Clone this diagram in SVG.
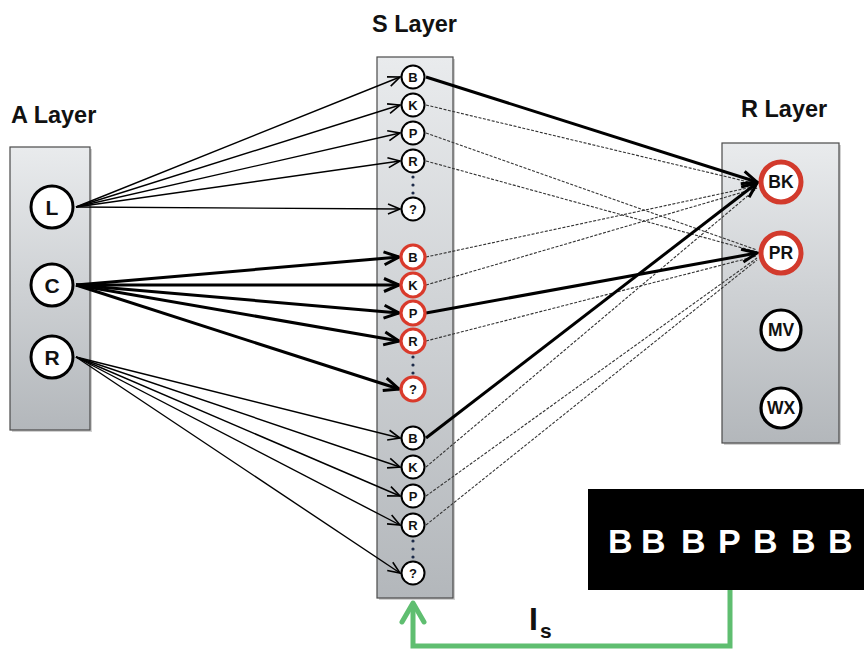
<svg xmlns="http://www.w3.org/2000/svg" width="864" height="649" viewBox="0 0 864 649">
<defs>
<linearGradient id="boxg" x1="0" y1="0" x2="0" y2="1">
<stop offset="0" stop-color="#e9ebed"/>
<stop offset="1" stop-color="#b3b7bb"/>
</linearGradient>
<marker id="arr" markerUnits="userSpaceOnUse" viewBox="0 0 14 12" markerWidth="14" markerHeight="12" refX="13" refY="6" orient="auto" overflow="visible">
<path d="M1,1 L13,6 L1,11" fill="none" stroke="#000" stroke-width="1.6"/>
</marker>
<marker id="arrT" markerUnits="userSpaceOnUse" viewBox="0 0 18 16" markerWidth="18" markerHeight="16" refX="16" refY="8" orient="auto" overflow="visible">
<path d="M1,1.5 L16,8 L1,14.5" fill="none" stroke="#000" stroke-width="3"/>
</marker>
</defs>
<style>
.box{fill:url(#boxg);stroke:#4a4a4a;stroke-width:1.2}
.shadow{fill:#000;opacity:0.18}
.title{font-family:"Liberation Sans",Arial,sans-serif;font-weight:bold;font-size:23.5px;fill:#111}
.anode{fill:#fff;stroke:#000;stroke-width:3}
.atxt{font-family:"Liberation Sans",Arial,sans-serif;font-weight:bold;font-size:21px;text-anchor:middle;fill:#111}
.snode{fill:#fff;stroke:#000;stroke-width:2}
.snodeR{fill:#fff;stroke:#d93a2b;stroke-width:3.2}
.stxt{font-family:"Liberation Sans",Arial,sans-serif;font-weight:bold;font-size:13px;text-anchor:middle;fill:#111}
.rnode{fill:#fff;stroke:#000;stroke-width:3.2}
.rnodeR{fill:#fff;stroke:#d23a2c;stroke-width:5}
.rtxt{font-family:"Liberation Sans",Arial,sans-serif;font-weight:bold;font-size:17.5px;text-anchor:middle;fill:#111}
.dot{fill:#1c2a48}
.thin{stroke:#000;stroke-width:1.4;fill:none;marker-end:url(#arr)}
.thick{stroke:#000;stroke-width:3;fill:none;marker-end:url(#arrT)}
.dash{stroke:#333;stroke-width:1.1;stroke-dasharray:3 1.5;fill:none}
.green{stroke:#5fbe70;stroke-width:5;fill:none}
.seq{font-family:"Liberation Sans",Arial,sans-serif;font-weight:bold;font-size:34px;fill:#fff}
</style>

<rect width="864" height="649" fill="#fff"/>

<!-- titles -->
<text class="title" x="11" y="123">A Layer</text>
<text class="title" x="372" y="32">S Layer</text>
<text class="title" x="741" y="117">R Layer</text>

<!-- layer boxes -->
<g id="a-layer-box">
<rect class="shadow" x="12" y="149" width="80" height="283"/>
<rect class="box" x="10" y="147" width="80" height="283"/>
</g>
<g id="s-layer-box">
<rect class="shadow" x="379" y="59" width="76" height="541"/>
<rect class="box" x="377" y="57" width="76" height="541"/>
</g>
<g id="r-layer-box">
<rect class="shadow" x="724" y="145" width="117" height="300"/>
<rect class="box" x="722" y="143" width="117" height="300"/>
</g>

<!-- connectors -->
<g id="connectors">
<!-- L to S group 1 -->
<line class="thin" x1="76" y1="207" x2="400" y2="77"/>
<line class="thin" x1="76" y1="207" x2="400" y2="105"/>
<line class="thin" x1="76" y1="207" x2="400" y2="133"/>
<line class="thin" x1="76" y1="207" x2="400" y2="161"/>
<line class="thin" x1="76" y1="207" x2="400" y2="209"/>
<!-- C to S group 2 -->
<line class="thick" x1="76" y1="285" x2="399" y2="257"/>
<line class="thick" x1="76" y1="285" x2="399" y2="285"/>
<line class="thick" x1="76" y1="285" x2="399" y2="313"/>
<line class="thick" x1="76" y1="285" x2="399" y2="341"/>
<line class="thick" x1="76" y1="285" x2="399" y2="389"/>
<!-- R to S group 3 -->
<line class="thin" x1="76" y1="357" x2="400" y2="438"/>
<line class="thin" x1="76" y1="357" x2="400" y2="467"/>
<line class="thin" x1="76" y1="357" x2="400" y2="496"/>
<line class="thin" x1="76" y1="357" x2="400" y2="525"/>
<line class="thin" x1="76" y1="357" x2="400" y2="573"/>
<!-- S to R layer -->
<line class="dash" x1="426" y1="105" x2="757" y2="184"/>
<line class="dash" x1="426" y1="133" x2="757" y2="250"/>
<line class="dash" x1="426" y1="161" x2="757" y2="252"/>
<line class="dash" x1="426" y1="257" x2="757" y2="186"/>
<line class="dash" x1="426" y1="285" x2="757" y2="188"/>
<line class="dash" x1="426" y1="341" x2="757" y2="256"/>
<line class="dash" x1="426" y1="467" x2="757" y2="188"/>
<line class="dash" x1="426" y1="496" x2="757" y2="258"/>
<line class="dash" x1="426" y1="525" x2="757" y2="260"/>
<line class="thick" x1="426" y1="77" x2="757" y2="182"/>
<line class="thick" x1="426" y1="313" x2="757" y2="253"/>
<line class="thick" x1="426" y1="438" x2="757" y2="183"/>
<!-- feedback I_s -->
<path class="green" d="M730,590 L730,646 L413,646 L413,603"/>
<path class="green" d="M402,622 L413,603 L424,622" stroke-linecap="round" stroke-linejoin="round"/>
</g>

<!-- A layer nodes -->
<g id="a-L"><circle class="anode" cx="52" cy="207" r="21"/><text class="atxt" x="52" y="214.5">L</text></g>
<g id="a-C"><circle class="anode" cx="52" cy="285" r="21"/><text class="atxt" x="52" y="292.5">C</text></g>
<g id="a-R"><circle class="anode" cx="52" cy="357" r="21"/><text class="atxt" x="52" y="364.5">R</text></g>

<!-- S layer group 1 -->
<g id="s1-B"><circle class="snode" cx="413" cy="77" r="11.5"/><text class="stxt" x="413" y="81.5">B</text></g>
<g id="s1-K"><circle class="snode" cx="413" cy="105" r="11.5"/><text class="stxt" x="413" y="109.5">K</text></g>
<g id="s1-P"><circle class="snode" cx="413" cy="133" r="11.5"/><text class="stxt" x="413" y="137.5">P</text></g>
<g id="s1-R"><circle class="snode" cx="413" cy="161" r="11.5"/><text class="stxt" x="413" y="165.5">R</text></g>
<g id="s1-dots"><circle class="dot" cx="413" cy="177" r="1.6"/><circle class="dot" cx="413" cy="185" r="1.6"/><circle class="dot" cx="413" cy="193" r="1.6"/></g>
<g id="s1-Q"><circle class="snode" cx="413" cy="209" r="11.5"/><text class="stxt" x="413" y="213.5">?</text></g>

<!-- S layer group 2 -->
<g id="s2-B"><circle class="snodeR" cx="413" cy="257" r="12"/><text class="stxt" x="413" y="261.5">B</text></g>
<g id="s2-K"><circle class="snodeR" cx="413" cy="285" r="12"/><text class="stxt" x="413" y="289.5">K</text></g>
<g id="s2-P"><circle class="snodeR" cx="413" cy="313" r="12"/><text class="stxt" x="413" y="317.5">P</text></g>
<g id="s2-R"><circle class="snodeR" cx="413" cy="341" r="12"/><text class="stxt" x="413" y="345.5">R</text></g>
<g id="s2-dots"><circle class="dot" cx="413" cy="357" r="1.6"/><circle class="dot" cx="413" cy="365" r="1.6"/><circle class="dot" cx="413" cy="373" r="1.6"/></g>
<g id="s2-Q"><circle class="snodeR" cx="413" cy="389" r="12"/><text class="stxt" x="413" y="393.5">?</text></g>

<!-- S layer group 3 -->
<g id="s3-B"><circle class="snode" cx="413" cy="438" r="11.5"/><text class="stxt" x="413" y="442.5">B</text></g>
<g id="s3-K"><circle class="snode" cx="413" cy="467" r="11.5"/><text class="stxt" x="413" y="471.5">K</text></g>
<g id="s3-P"><circle class="snode" cx="413" cy="496" r="11.5"/><text class="stxt" x="413" y="500.5">P</text></g>
<g id="s3-R"><circle class="snode" cx="413" cy="525" r="11.5"/><text class="stxt" x="413" y="529.5">R</text></g>
<g id="s3-dots"><circle class="dot" cx="413" cy="541" r="1.6"/><circle class="dot" cx="413" cy="549" r="1.6"/><circle class="dot" cx="413" cy="557" r="1.6"/></g>
<g id="s3-Q"><circle class="snode" cx="413" cy="573" r="11.5"/><text class="stxt" x="413" y="577.5">?</text></g>

<!-- R layer nodes -->
<g id="r-BK"><circle class="rnodeR" cx="781" cy="182" r="20"/><text class="rtxt" x="781" y="188">BK</text></g>
<g id="r-PR"><circle class="rnodeR" cx="781" cy="253" r="20"/><text class="rtxt" x="781" y="259">PR</text></g>
<g id="r-MV"><circle class="rnode" cx="781" cy="330" r="20"/><text class="rtxt" x="781" y="336">MV</text></g>
<g id="r-WX"><circle class="rnode" cx="781" cy="408" r="20"/><text class="rtxt" x="781" y="414">WX</text></g>

<!-- input sequence -->
<g id="input">
<rect x="588" y="489" width="276" height="101" fill="#000"/>
<text class="seq" x="608 641 681 718 753 791 828" y="553">BBBPBBB</text>
</g>

<!-- I_s label -->
<g id="is-label">
<text x="529" y="630" font-family="Liberation Sans, Arial, sans-serif" font-weight="bold" font-size="32" fill="#111">I</text>
<text x="540" y="638" font-family="Liberation Sans, Arial, sans-serif" font-weight="bold" font-size="21" fill="#111">s</text>
</g>
</svg>
